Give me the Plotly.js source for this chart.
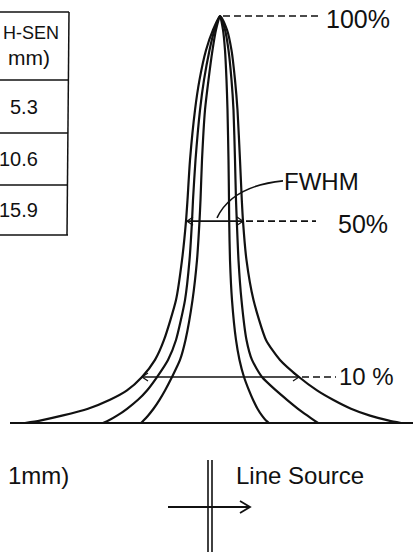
<!DOCTYPE html>
<html><head><meta charset="utf-8">
<script src="https://cdn.plot.ly/plotly-3.0.1.min.js"></script>
<style>html,body{margin:0;padding:0;background:#fff}#chart{width:413px;height:552px}</style>
</head><body><div id="chart"></div>
<script>
// Relative response (% of peak) at which each curve position was read
const levels   = [100, 96.6, 91.6, 84.3, 76.9, 64.6, 54.8, 49.6, 40, 30.2, 20.4, 15.5, 11.3, 8, 5.7, 3.5, 1.8, 0.6, 0];
// Flank positions (horizontal position units) for the three smoothing widths
const left53   = [220, 216, 212.5, 208.5, 205, 202, 200.5, 199.5, 197, 192.5, 185.5, 180, 172, 165, 159.5, 153.5, 148, 143.5, 141];
const left106  = [220, 214.5, 209.5, 204, 200, 195.5, 193, 192, 189.5, 185, 176, 168, 157, 147, 138, 127, 117, 108.5, 103];
const left159  = [220, 213, 206, 199.5, 195, 190, 187.5, 186, 182, 176, 164, 155, 142, 127, 110, 88, 62, 40, 25];
const right53  = [220, 223, 225, 226.5, 227.5, 228.5, 229, 229.2, 230, 232, 236, 239.5, 244, 249, 253, 257.5, 262, 266, 269];
const right106 = [220, 225, 228.5, 231.5, 233.5, 235, 236, 236.8, 238.5, 241.5, 246.5, 252, 262, 276, 287, 298, 307.5, 314.5, 318];
const right159 = [220, 227, 231.5, 235, 237.5, 240, 241.8, 243, 246.5, 253.5, 266, 280, 299, 317, 333, 351, 370, 389, 401];
const smoothing = ['5.3', '10.6', '15.9'];
const headerLines = ['H-SEN', 'mm)'];
const markLevels = [100, 49.6, 11.3];
const markLabels = ['100%', '50%', '10 %'];
const fwhmEnds = [187, 243];
const fwtmEnds = [142, 299];
const baseExtent = [10, 413];

const W = 413, H = 552;
const px = v => v / W;
const py = v => 1 - v / H;
const FONT = 'Liberation Sans, Arial, sans-serif';

function curve(L, R, name) {
  const x = L.slice().reverse().concat(R.slice(1));
  const y = levels.slice().reverse().concat(levels.slice(1));
  return {x, y, name, type: 'scatter', mode: 'lines',
    line: {color: '#111', width: 2.2, shape: 'spline', smoothing: 0.6},
    hoverinfo: 'skip', showlegend: false};
}
const data = [
  curve(left53, right53, smoothing[0]),
  curve(left106, right106, smoothing[1]),
  curve(left159, right159, smoothing[2])
];

const shapes = [];
const line = (x0, y0, x1, y1, w, ref, dash) => shapes.push({type: 'line', x0, y0, x1, y1,
  xref: ref === 'paper' ? 'paper' : 'x', yref: ref === 'paper' ? 'paper' : 'y',
  line: {color: '#111', width: w, dash: dash || 'solid'}});
const path = (d, w, ref) => shapes.push({type: 'path', path: d,
  xref: ref === 'paper' ? 'paper' : 'x', yref: ref === 'paper' ? 'paper' : 'y',
  line: {color: '#111', width: w}});

// baseline
line(baseExtent[0], 0, baseExtent[1], 0, 2);
// dashed level markers
const DASH = '7px,4px';
line(223, markLevels[0], 320, markLevels[0], 1.6, 'x', DASH);
line(246, markLevels[1], 316, markLevels[1], 1.6, 'x', DASH);
line(302, markLevels[2], 336, markLevels[2], 1.6, 'x', DASH);

// double-headed width arrows
function arrow(a, b, y) {
  const hl = 6, hh = 1.0;
  line(a, y, b, y, 1.6);
  path(`M ${a + hl},${y + hh} L ${a},${y} L ${a + hl},${y - hh}`, 1.2);
  path(`M ${b - hl},${y + hh} L ${b},${y} L ${b - hl},${y - hh}`, 1.2);
}
arrow(fwhmEnds[0], fwhmEnds[1], markLevels[1]);
arrow(fwtmEnds[0], fwtmEnds[1], markLevels[2]);
// FWHM leader
path('M 217,50.4 Q 232,58.2 283,59.5', 1.6);

// table (paper coordinates)
line(px(0), py(12), px(69), py(12), 1.5, 'paper');
line(px(69), py(12), px(67), py(235), 1.5, 'paper');
[80, 133, 185, 235].forEach(v => line(px(0), py(v), px(68), py(v), 1.5, 'paper'));

// line-source symbol
line(px(208), py(460), px(208), py(552), 1.6, 'paper');
line(px(212), py(460), px(212), py(552), 1.6, 'paper');
line(px(168), py(507), px(249), py(507), 1.8, 'paper');
path(`M ${px(240)},${py(501)} L ${px(250)},${py(507)} L ${px(240)},${py(513)}`, 1.8, 'paper');

const ann = (text, x, y, size, xanchor) => ({text, x: px(x), y: py(y), xref: 'paper', yref: 'paper',
  xanchor: xanchor || 'left', yanchor: 'middle', showarrow: false,
  font: {family: FONT, size, color: '#111'}});
const annotations = [
  ann(markLabels[0], 324, 19, 25),
  ann('FWHM', 282, 181, 24),
  ann(markLabels[1], 336, 224, 25),
  ann(markLabels[2], 337, 376, 24),
  ann('1mm)', 6, 475, 24),
  ann('Line Source', 234, 475, 24),
  ann(headerLines[0], 1, 33, 18),
  ann(headerLines[1], 52, 57, 21, 'right'),
  ann(smoothing[0], 40, 107, 20, 'right'),
  ann(smoothing[1], 40, 159, 20, 'right'),
  ann(smoothing[2], 40, 210, 20, 'right')
];

const layout = {
  width: W, height: H,
  margin: {l: 0, r: 0, t: 0, b: 0, pad: 0},
  paper_bgcolor: '#fff', plot_bgcolor: '#fff',
  xaxis: {range: [0, W], visible: false, fixedrange: true},
  yaxis: {range: [(423 - H) / 4.07, 423 / 4.07], visible: false, fixedrange: true},
  shapes, annotations, showlegend: false
};
Plotly.newPlot('chart', data, layout, {staticPlot: true, displayModeBar: false});
</script></body></html>
